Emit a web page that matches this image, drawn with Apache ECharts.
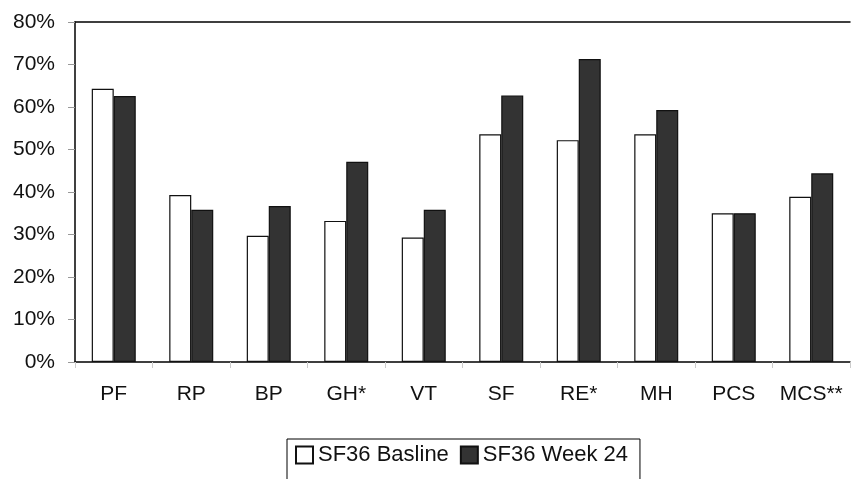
<!DOCTYPE html>
<html>
<head>
<meta charset="utf-8">
<script src="https://cdn.jsdelivr.net/npm/echarts@6/dist/echarts.min.js"></script>
<style>
html,body{margin:0;padding:0;background:#fff;}
#c{width:852px;height:479px;}
</style>
</head>
<body>
<div id="c"></div>
<script>
var categories = ['PF','RP','BP','GH*','VT','SF','RE*','MH','PCS','MCS**'];
var baseline = [64.3, 39.3, 29.7, 33.2, 29.3, 53.6, 52.2, 53.6, 35.0, 38.9];
var week24 = [62.6, 35.8, 36.7, 47.1, 35.8, 62.7, 71.3, 59.3, 35.0, 44.4];
var seriesNames = ['SF36 Basline', 'SF36 Week 24'];
var yTicks = [0, 10, 20, 30, 40, 50, 60, 70, 80];

var font = 'Liberation Sans, Arial, sans-serif';
var chart = echarts.init(document.getElementById('c'), null, {renderer: 'canvas'});
chart.setOption({
  animation: false,
  backgroundColor: '#fff',
  grid: {left: 75, right: 2, top: 22, bottom: 117, containLabel: false},
  legend: {
    data: seriesNames,
    left: 287, top: 439,
    orient: 'horizontal',
    icon: 'rect',
    itemWidth: 17, itemHeight: 17,
    itemGap: 11,
    padding: [5, 12, 40, 8],
    borderColor: '#000', borderWidth: 1,
    textStyle: {fontFamily: font, fontSize: 22, color: '#111', padding: [0, 0, 0, 0]}
  },
  xAxis: [{
    type: 'category',
    data: categories,
    boundaryGap: true,
    axisLine: {show: true, lineStyle: {color: '#000', width: 1.5}},
    axisTick: {show: true, length: 6, lineStyle: {color: '#ccc'}},
    axisLabel: {interval: 0, fontFamily: font, fontSize: 21, color: '#111', margin: 22},
    splitLine: {show: false}
  }, {
    type: 'category',
    position: 'top',
    data: categories,
    axisLine: {show: true, lineStyle: {color: '#000', width: 1.5}},
    axisTick: {show: false},
    axisLabel: {show: false}
  }],
  yAxis: {
    type: 'value',
    min: yTicks[0], max: yTicks[yTicks.length - 1], interval: 10,
    axisLine: {show: true, lineStyle: {color: '#000', width: 1.5}},
    axisTick: {show: true, length: 7, lineStyle: {color: '#999'}},
    axisLabel: {fontFamily: font, fontSize: 21, color: '#111', margin: 20,
      formatter: function (v) { return v + '%'; }},
    splitLine: {show: false}
  },
  series: [{
    name: seriesNames[0],
    type: 'bar',
    data: baseline,
    barWidth: 22,
    barGap: '0%',
    itemStyle: {color: '#ffffff', borderColor: '#111', borderWidth: 1.2}
  }, {
    name: seriesNames[1],
    type: 'bar',
    data: week24,
    barWidth: 22,
    barGap: '0%',
    itemStyle: {color: '#333333', borderColor: '#111', borderWidth: 1.2}
  }]
});
</script>
</body>
</html>
